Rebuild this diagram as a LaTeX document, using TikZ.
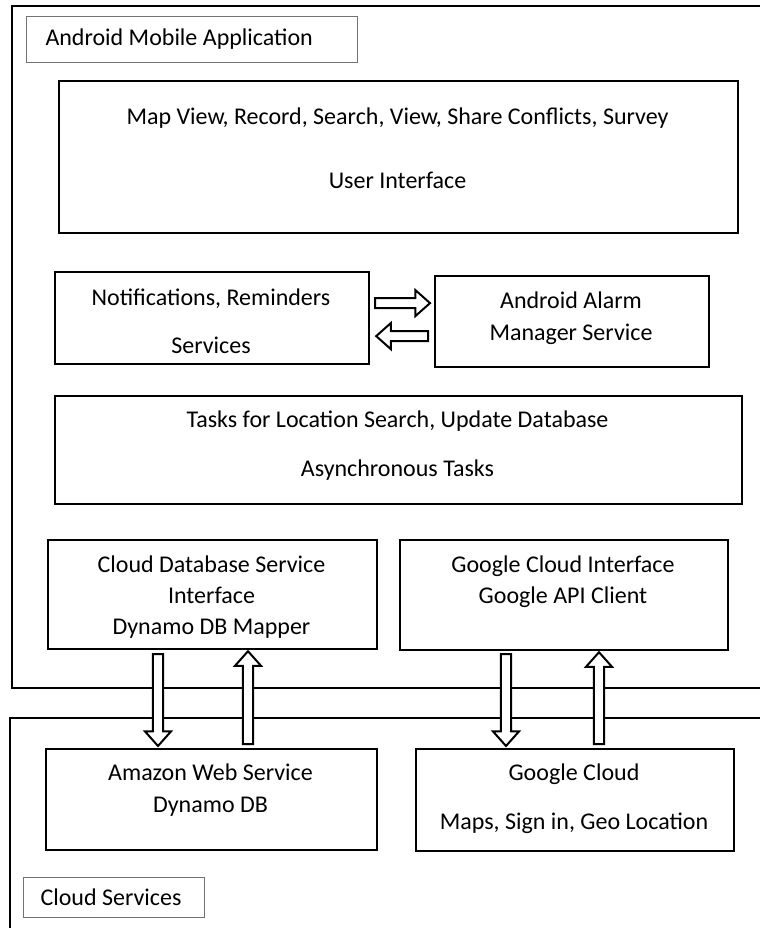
\documentclass[tikz,border=0pt]{standalone}
\usepackage{fontspec}
\setmainfont{Carlito}
\usetikzlibrary{calc}

\begin{document}
\begin{tikzpicture}[
    x=0.75pt, y=-0.75pt,
    font=\fontsize{18}{22}\selectfont,
    frame/.style={line width=1.95pt},
    tag/.style={draw=black!55, line width=0.75pt, anchor=north west, inner ysep=0pt, align=flush left},
    box/.style={draw, line width=1.65pt, anchor=north west, inner sep=0pt},
    sz/.style 2 args={minimum width=#1*0.75pt, minimum height=#2*0.75pt},
    txt/.style={inner sep=0pt, text height=12pt, text depth=0.4pt},
    blk/.style={draw, fill=white, line width=1.5pt,
      to path={let \p1=(\tikztostart), \p2=(\tikztotarget),
          \n1={veclen(\x2-\x1,\y2-\y1)}, \n2={(\x2-\x1)/\n1}, \n3={(\y2-\y1)/\n1} in
        ({\x1-3.8*(\n3)},{\y1+3.8*(\n2)})
        -- ({\x2-11*(\n2)-3.8*(\n3)},{\y2-11*(\n3)+3.8*(\n2)})
        -- ({\x2-11*(\n2)-9.8*(\n3)},{\y2-11*(\n3)+9.8*(\n2)})
        -- (\p2)
        -- ({\x2-11*(\n2)+9.8*(\n3)},{\y2-11*(\n3)-9.8*(\n2)})
        -- ({\x2-11*(\n2)+3.8*(\n3)},{\y2-11*(\n3)-3.8*(\n2)})
        -- ({\x1+3.8*(\n3)},{\y1-3.8*(\n2)}) -- cycle}}
  ]
  \useasboundingbox (0,0) rectangle (760,928);

  % the two layers
  \draw[frame] (764,6) -- (12,6) -- (12,688) -- (764,688);
  \draw[frame] (764,718) -- (10,718) -- (10,932);

  \node[tag, inner xsep=19*0.75pt, text width=293*0.75pt, minimum height=46*0.75pt] (applbl) at (26,16) {Android Mobile Application};
  \node[tag, inner xsep=17*0.75pt, text width=147*0.75pt, minimum height=40*0.75pt] (cloudlbl) at (23,877) {Cloud Services};

  \node[box, sz={679}{152}] (ui) at (58,80) {};
  \node[txt] (ui1) at (397.5,117) {Map View, Record, Search, View, Share Conflicts, Survey};
  \node[txt] (ui2) at (397.5,181) {User Interface};

  \node[box, sz={314}{92}] (notif) at (54,271) {};
  \node[txt] (notif1) at (211,298) {Notifications, Reminders};
  \node[txt] (notif2) at (211,346) {Services};

  \node[box, sz={274}{91}] (alarm) at (434,275) {};
  \node[txt] (alarm1) at (571,301) {Android Alarm};
  \node[txt] (alarm2) at (571,333) {Manager Service};

  \node[box, sz={687}{108}] (tasks) at (54,395) {};
  \node[txt] (tasks1) at (397.5,420) {Tasks for Location Search, Update Database};
  \node[txt] (tasks2) at (397.5,469) {Asynchronous Tasks};

  \node[box, sz={329}{109}] (cdb) at (47,539) {};
  \node[txt] (cdb1) at (211.5,565) {Cloud Database Service};
  \node[txt] (cdb2) at (211.5,596) {Interface};
  \node[txt] (cdb3) at (211.5,627) {Dynamo DB Mapper};

  \node[box, sz={328}{110}] (gif) at (399,539) {};
  \node[txt] (gif1) at (563,565) {Google Cloud Interface};
  \node[txt] (gif2) at (563,596) {Google API Client};

  \node[box, sz={331}{101}] (aws) at (45,748) {};
  \node[txt] (aws1) at (210.5,773) {Amazon Web Service};
  \node[txt] (aws2) at (210.5,805) {Dynamo DB};

  \node[box, sz={318}{102}] (gc) at (415,748) {};
  \node[txt] (gc1) at (574,773) {Google Cloud};
  \node[txt] (gc2) at (574,822) {Maps, Sign in, Geo Location};

  % block arrows
  \draw[blk] ($(notif.east)+(5,-15)$) to ($(alarm.west)+(-4,-18.5)$);
  \draw[blk] ($(alarm.west)+(-6,14.5)$) to ($(notif.east)+(6,18)$);
  \draw[blk] ($(cdb.south west)+(111,4)$) to ($(aws.north west)+(113,-2)$);
  \draw[blk] ($(aws.north west)+(203,-4)$) to ($(cdb.south west)+(201,1)$);
  \draw[blk] ($(gif.south west)+(107,3)$) to ($(gc.north west)+(91,-2)$);
  \draw[blk] ($(gc.north west)+(184,-4)$) to ($(gif.south west)+(200,1)$);
\end{tikzpicture}
\end{document}
